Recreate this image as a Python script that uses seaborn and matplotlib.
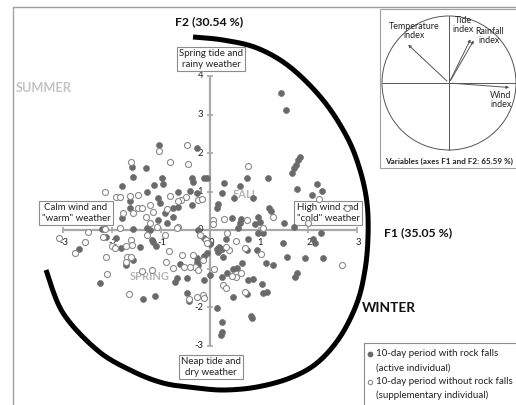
import numpy as np
import pandas as pd
import matplotlib
matplotlib.use("Agg")
import matplotlib.pyplot as plt
import seaborn as sns
from matplotlib import transforms
from matplotlib.patches import Circle, Rectangle

sns.set_theme(style="white")
plt.rcParams["font.family"] = ["Lato", "DejaVu Sans"]

# ---------------- data ----------------
active_f1 = [1.44, 1.55, 1.84, 1.80, 1.76, 1.71, 1.67, 1.18, 0.76, 0.61, 0.29, 0.24, 1.78, 2.18, 2.29,
             2.08, 0.49, 0.88, 0.16, 0.14, 1.20, 1.24, 0.45, 0.63, 0.61, 0.57, 0.98, 1.02, 0.92, 1.51,
             1.71, 2.27, 2.10, 2.14, 1.49, 1.57, 1.94, 2.31, 1.14, 1.29, 1.78, 1.73, 0.78, 0.98, 1.08,
             0.96, 0.76, 0.33, 0.18, 0.24, 0.14, 0.16, 0.27, -0.06, -0.12, 0.65, 0.55, 0.35, 0.47, 0.24,
             0.00, -0.12, 0.78, 0.88, 0.76, 1.08, 1.16, 1.06, 0.47, 0.84, 0.86, 0.24, 0.24, 0.22, 0.14,
             -0.27, -0.27, -0.35, -0.37, -0.41, -0.27, -0.37,
             -1.04, -1.59, -1.31, -1.57, -0.98, -0.12, -0.06, -0.96, -1.80, -1.14, -1.29, -0.65, -1.06,
             -1.63, -1.02, -1.63, -0.76, -0.65, -0.92, -0.76, -1.80, -1.06, -0.88, -1.29, -1.22, -2.20,
             -1.57, -0.24, -2.67, -2.12, -1.92, -1.82, -1.43, -1.18, -1.16, -1.10, -1.57, -1.71, -0.24,
             -0.61, -0.27, -0.27, 0.00, -0.67, -0.71, -0.47, -2.24, -1.37, -1.12, -0.47, -0.43, -0.12]
active_f2 = [3.55, 3.12, 1.90, 1.82, 1.69, 1.61, 1.48, 1.35, 1.35, 1.14, 1.22, 0.96, 1.06, 1.19, 1.01,
             0.91, 0.83, 0.83, 0.68, 0.57, 0.57, 0.49, 0.31, 0.29, 0.18, 0.05, 0.34, 0.21, 0.16, 0.18,
             0.08, -0.08, -0.23, -0.34, -0.34, -0.70, -0.73, -0.73, -0.86, -0.91, -1.12, -1.22, -0.23, -0.08, -0.08,
             -0.52, -0.52, -0.23, -0.44, -0.49, -0.49, -0.57, -0.70, -0.60, -0.68, -0.86, -0.99, -1.12, -1.01, -1.22,
             -1.17, -1.30, -1.30, -1.27, -1.66, -1.64, -1.61, -1.40, -1.74, -2.23, -2.29, -2.39, -2.65, -2.73, -2.03,
             -0.73, 2.13, 1.25, 1.35, 1.01, 0.96, 0.65,
             2.21, 1.64, 1.61, 1.38, 1.35, 1.35, 1.35, 1.19, 1.14, 1.17, 0.99, 0.99, 0.83,
             0.75, 0.70, 0.57, 0.57, 0.60, 0.44, 0.34, 0.31, 0.26, 0.18, 0.05, 0.00, 0.03,
             0.03, 0.00, -0.49, -0.18, -0.21, -0.47, -0.44, -0.26, -0.31, -0.42, -0.78, -0.91, -0.91,
             -0.88, -0.83, -0.99, -0.36, -1.25, -1.35, -1.25, -1.38, -1.79, -1.71, -1.64, -1.84, -0.21]

supp_f1 = [0.78, 2.22, 0.29, 0.76, 1.29, 1.08, 0.06, 0.06, 0.35, 0.53, 0.71, 1.04, 0.39, 0.33, 2.69,
           0.08, 0.63, 0.53, 0.45, 0.27, 0.33, 0.71, 2.80, 2.00, -0.08, -0.06, -0.20, -0.31, -0.24, -0.14,
           -0.27, -0.12,
           -0.47, -1.04, -1.61, -0.82, -0.45, -2.14, -1.92, -1.84, -1.63, -1.47, -0.82, -0.49, -0.59, -0.24,
           -0.16, -0.65, -1.47, -1.39, -1.22, -0.88, -1.78, -1.57, -1.16, -1.31, -1.22, -1.08, -0.65, -1.84,
           -2.49, -2.14, -3.08, -2.55, -2.76, -2.18, -2.00, -1.94, -1.71, -1.61, -1.59, -1.29, -0.92, -0.84,
           -1.69, -1.61, -2.12, -1.71, -0.90, -0.57, -0.35, -0.53, -0.76, -0.41, -0.14, -1.18, -1.39, -2.10,
           -1.65, -0.43, -0.67]
supp_f2 = [1.66, 0.81, 0.29, 0.26, 0.34, 0.05, 0.26, 0.16, -0.08, -0.29, -0.47, -0.62, -0.52, -0.44, -0.91,
           -1.01, -1.12, -1.22, -1.19, -1.43, -1.51, -1.61, 0.57, 0.18, -0.26, -0.34, -0.13, -0.96, -1.04, -1.69,
           -1.74, -1.77,
           2.21, 2.05, 1.77, 1.77, 1.71, 0.99, 0.86, 0.86, 0.88, 0.91, 0.88, 0.86, 0.78, 0.78,
           0.81, 0.75, 0.57, 0.57, 0.65, 0.55, 0.44, 0.44, 0.47, 0.34, 0.18, 0.08, 0.08, 0.05,
           -0.05, 0.03, -0.21, -0.31, -0.60, -0.18, -0.42, -0.47, -0.42, -0.26, -0.39, -0.13, -0.13, -0.55,
           -0.70, -0.70, -0.70, -0.83, -0.83, -0.65, -0.65, -0.96, -0.99, -0.96, -0.78, -1.04, -1.06, -1.14,
           -1.66, -1.79, 0.05]

loading_names = ["Temperature\nindex", "Tide\nindex", "Rainfall\nindex", "Wind\nindex"]
loading_f1 = [-0.64, 0.34, 0.39, 0.94]
loading_f2 = [0.60, 0.69, 0.67, -0.07]

x_ticks = [-3, -2, -1, 0, 1, 2, 3]
y_ticks = [-3, -2, -1, 0, 1, 2, 3, 4]

# ---------------- figure ----------------
W, H = 516, 405
fig = plt.figure(figsize=(W / 100, H / 100), dpi=100)
fig.patch.set_facecolor("white")
ax = fig.add_axes([0, 0, 1, 1])
ax.set_facecolor("none")

# pixel transform (x right, y down) for decorations
px = transforms.Affine2D().scale(1 / 100, -1 / 100).translate(0, H / 100) + fig.dpi_scale_trans

df = pd.DataFrame({
    "F1": active_f1 + supp_f1,
    "F2": active_f2 + supp_f2,
    "kind": ["active"] * len(active_f1) + ["supplementary"] * len(supp_f1),
})

axis_col = "#a8a8a8"
# axes lines
ax.plot([x_ticks[0], x_ticks[-1]], [0, 0], color=axis_col, lw=1.6, zorder=1, solid_capstyle="butt")
ax.plot([0, 0], [y_ticks[0], y_ticks[-1]], color=axis_col, lw=1.6, zorder=1, solid_capstyle="butt")
ax.plot(x_ticks, [0] * len(x_ticks), ls="none", marker="|", ms=5, mew=1.2, color=axis_col, zorder=1)
ax.plot([0] * len(y_ticks), y_ticks, ls="none", marker="_", ms=5, mew=1.2, color=axis_col, zorder=1)
for t in x_ticks:
    ax.annotate(str(t), (t, 0), xytext=(1, -9), textcoords="offset points", ha="center", va="center",
                fontsize=6.8, color="#222222", zorder=2)
for t in y_ticks:
    ax.annotate(str(t), (0, t), xytext=(-5, 0), textcoords="offset points", ha="right", va="center",
                fontsize=6.8, color="#222222", zorder=2)

# season labels (under the points)
ax.text(245, 195, "FALL", transform=px, ha="center", va="center", fontsize=8, fontweight="bold",
        color="#b4b4b4", zorder=1.5)
ax.text(150, 277, "SPRING", transform=px, ha="center", va="center", fontsize=8, fontweight="bold",
        color="#b4b4b4", zorder=1.5)

# scatter
sns.scatterplot(data=df[df["kind"] == "active"], x="F1", y="F2", color="#6a6a6a", edgecolor="#6a6a6a",
                s=19, linewidth=0.4, ax=ax, legend=False, zorder=3)
sns.scatterplot(data=df[df["kind"] == "supplementary"], x="F1", y="F2", color="white", edgecolor="#8a8a8a",
                s=19, linewidth=0.8, ax=ax, legend=False, zorder=3)

ax.set_xlim(-210 / 49, (W - 210) / 49)
ax.set_ylim((230 - H) / 38.5, 230 / 38.5)
ax.axis("off")

# big seasonal arc
arc_outline_px = [(193, 37), (223, 40), (257, 48), (290, 67), (323, 100), (347, 137), (360, 170),
                  (367, 203), (368, 237), (365, 270), (357, 303), (340, 337), (317, 363), (290, 378),
                  (257, 387), (225, 390), (197, 388), (163, 383), (130, 370), (97, 350), (63, 313),
                  (46, 270)]


def catmull(pts, n=12):
    P = np.array(pts, float)
    P = np.vstack([P[0], P, P[-1]])
    out = []
    for i in range(1, len(P) - 2):
        p0, p1, p2, p3 = P[i - 1], P[i], P[i + 1], P[i + 2]
        for t in np.linspace(0, 1, n, endpoint=False):
            out.append(0.5 * ((2 * p1) + (-p0 + p2) * t + (2 * p0 - 5 * p1 + 4 * p2 - p3) * t ** 2
                              + (-p0 + 3 * p1 - 3 * p2 + p3) * t ** 3))
    out.append(P[-2])
    return np.array(out)


curve = catmull(arc_outline_px)
ax.plot(curve[:, 0], curve[:, 1], transform=px, color="black", lw=3.6, solid_capstyle="butt", zorder=2.5,
        clip_on=False)

# frame lines of the original figure
ax.plot([13, W], [7, 7], transform=px, color="#a0a0a0", lw=1, clip_on=False, zorder=0)
ax.plot([13, 13], [7, H], transform=px, color="#a0a0a0", lw=1, clip_on=False, zorder=0)

# titles
ax.text(209, 22, "F2 (30.54 %)", transform=px, ha="center", va="center", fontsize=8.8, fontweight="bold",
        color="#111111")
ax.text(384, 233, "F1 (35.05 %)", transform=px, ha="left", va="center", fontsize=8.8, fontweight="bold",
        color="#111111")
ax.text(16, 88, "SUMMER", transform=px, ha="left", va="center", fontsize=9.2, fontweight="bold", color="#c4c4c4")
ax.text(362, 308, "WINTER", transform=px, ha="left", va="center", fontsize=9.8, fontweight="bold",
        color="#111111")

box = dict(boxstyle="square,pad=0.25", fc="white", ec="#8c8c8c", lw=0.8)
for (bx, by, s) in [(211, 59, "Spring tide and\nrainy weather"),
                    (76, 213, "Calm wind and\n\"warm\" weather"),
                    (328, 213, "High wind and\n\"cold\" weather"),
                    (211, 367, "Neap tide and\ndry weather")]:
    ax.text(bx, by, s, transform=px, ha="center", va="center", fontsize=7, color="#222222",
            linespacing=1.15, bbox=box, zorder=2)

# legend box
ax.add_patch(Rectangle((364, 343), 160, 70, transform=px, fc="white", ec="#8c8c8c", lw=0.8, zorder=4,
                       clip_on=False))
ax.scatter([370], [354], transform=px, s=10, color="#6a6a6a", zorder=5, clip_on=False)
ax.scatter([370], [382], transform=px, s=10, facecolor="white", edgecolor="#8a8a8a", lw=0.8, zorder=5,
           clip_on=False)
for (ly, s) in [(354, "10-day period with rock falls"), (368, "(active individual)"),
                (382, "10-day period without rock falls"), (395, "(supplementary individual)")]:
    ax.text(376, ly, s, transform=px, ha="left", va="center", fontsize=7, color="#222222", zorder=5)

# inset: correlation circle
ax.add_patch(Rectangle((380, 9), 140, 159, transform=px, fc="white", ec="#a0a0a0", lw=0.8, zorder=4,
                       clip_on=False))
cx, cy, r = 449, 83, 67
ax_in = fig.add_axes([(cx - r) / W, (H - cy - r) / H, 2 * r / W, 2 * r / H])
ax_in.set_facecolor("none")
ax_in.set_xlim(-1, 1)
ax_in.set_ylim(-1, 1)
ax_in.axis("off")
ax_in.add_patch(Circle((0, 0), 1, fill=False, ec="#555555", lw=0.7, clip_on=False))
ax_in.plot([-1, 1], [0, 0], color="#555555", lw=0.7, clip_on=False)
ax_in.plot([0, 0], [-1, 1], color="#555555", lw=0.7, clip_on=False)
for nx, ny in zip(loading_f1, loading_f2):
    ax_in.annotate("", xy=(nx, ny), xytext=(0, 0),
                   arrowprops=dict(arrowstyle="-|>", color="#555555", lw=0.7, mutation_scale=4))
label_pos = [(-0.52, 0.78), (0.21, 0.87), (0.60, 0.70), (0.93, -0.25)]
label_ha = ["center", "center", "center", "right"]
for (lx, ly), s, ha in zip(label_pos, loading_names, label_ha):
    ax_in.text(lx, ly, s, ha=ha, va="center", fontsize=6.4, color="#222222", linespacing=1.0)
ax.text(449, 161, "Variables (axes F1 and F2: 65.59 %)", transform=px, ha="center", va="center",
        fontsize=5.9, fontweight="bold", color="#222222", zorder=5)

fig.savefig("out.png", dpi=100, facecolor="white")
